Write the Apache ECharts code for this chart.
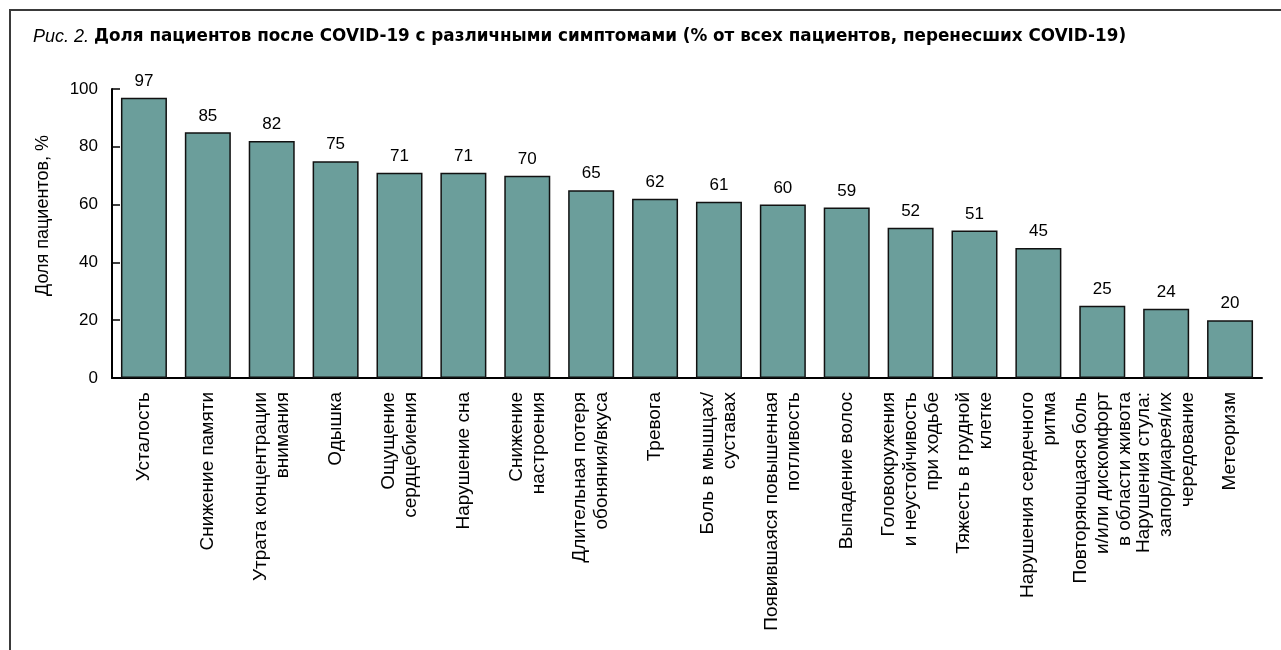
<!DOCTYPE html>
<html>
<head>
<meta charset="utf-8">
<script src="https://cdn.jsdelivr.net/npm/echarts@6/dist/echarts.min.js"></script>
<style>
  html, body { margin: 0; padding: 0; background: #fff; }
  #chart { width: 1281px; height: 650px; }
</style>
</head>
<body>
<div id="chart"></div>
<script>
// Symptom categories (line breaks as printed under the axis)
const categories = [
  'Усталость',
  'Снижение памяти',
  'Утрата концентрации\nвнимания',
  'Одышка',
  'Ощущение\nсердцебиения',
  'Нарушение сна',
  'Снижение\nнастроения',
  'Длительная потеря\nобоняния/вкуса',
  'Тревога',
  'Боль в мышцах/\nсуставах',
  'Появившаяся повышенная\nпотливость',
  'Выпадение волос',
  'Головокружения\nи неустойчивость\nпри ходьбе',
  'Тяжесть в грудной\nклетке',
  'Нарушения сердечного\nритма',
  'Повторяющаяся боль\nи/или дискомфорт\nв области живота',
  'Нарушения стула:\nзапор/диарея/их\nчередование',
  'Метеоризм'
];

// Share of patients with each symptom, %
const shares = [97, 85, 82, 75, 71, 71, 70, 65, 62, 61, 60, 59, 52, 51, 45, 25, 24, 20];

// Value-axis ticks
const yTicks = [0, 20, 40, 60, 80, 100];

const FONT = '"Liberation Sans", Arial, Helvetica, sans-serif';
const TITLE_FONT = '"DejaVu Sans", "Liberation Sans", Arial, sans-serif';
const chart = echarts.init(document.getElementById('chart'), null, { renderer: 'canvas' });

chart.setOption({
  animation: false,
  backgroundColor: '#fff',
  textStyle: { fontFamily: FONT, color: '#000' },
  title: {
    left: 28,
    top: 23,
    text: '{i|Рис. 2.} {b|Доля пациентов после COVID-19 с различными симптомами (% от всех пациентов, перенесших COVID-19)}',
    textStyle: {
      fontWeight: 'normal',
      rich: {
        i: { fontFamily: FONT, fontStyle: 'italic', fontWeight: 'normal', fontSize: 18, color: '#000' },
        b: { fontFamily: TITLE_FONT, fontWeight: 'bold', fontSize: 16.8, color: '#000' }
      }
    }
  },
  graphic: [
    {
      type: 'polyline',
      shape: { points: [[10, 650], [10, 10], [1281, 10]] },
      style: { stroke: '#3a3a3a', lineWidth: 2, fill: null }
    }
  ],
  grid: { left: 112, right: 19, top: 89, bottom: 272, containLabel: false },
  xAxis: {
    type: 'category',
    data: categories,
    axisLine: { lineStyle: { color: '#000', width: 2 } },
    axisTick: { inside: true, length: 6, alignWithLabel: false, lineStyle: { color: '#000', width: 1.5 } },
    axisLabel: {
      rotate: 90,
      interval: 0,
      margin: 14,
      fontSize: 19,
      lineHeight: 22,
      color: '#000',
      fontFamily: FONT
    }
  },
  yAxis: {
    type: 'value',
    min: yTicks[0],
    max: yTicks[yTicks.length - 1],
    interval: 20,
    name: 'Доля пациентов, %',
    nameLocation: 'middle',
    nameGap: 60,
    nameRotate: 90,
    nameTextStyle: { fontSize: 18, color: '#000', fontFamily: FONT, padding: [0, 0, 0, 36] },
    splitLine: { show: false },
    axisLine: { show: true, lineStyle: { color: '#000', width: 2 } },
    axisTick: { show: true, inside: true, length: 8, lineStyle: { color: '#000', width: 1.5 } },
    axisLabel: { fontSize: 17, color: '#000', margin: 14, fontFamily: FONT }
  },
  series: [
    {
      type: 'bar',
      data: shares,
      barCategoryGap: '28%',
      itemStyle: { color: '#6b9e9b', borderColor: '#111', borderWidth: 1.5 },
      label: {
        show: true,
        position: 'top',
        distance: 8,
        fontSize: 17,
        color: '#000',
        fontFamily: FONT
      }
    }
  ]
});
</script>
</body>
</html>
